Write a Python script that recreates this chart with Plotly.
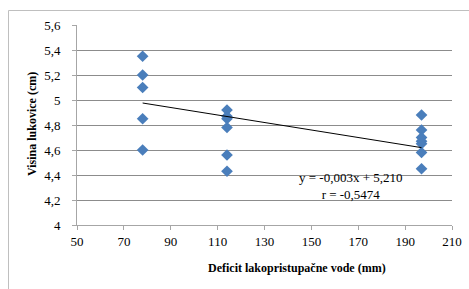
import plotly.graph_objects as go

# Data
deficit = [78, 78, 78, 78, 78,
           114, 114, 114, 114, 114, 114,
           197, 197, 197, 197, 197, 197, 197]
visina = [5.35, 5.20, 5.10, 4.85, 4.60,
          4.92, 4.87, 4.85, 4.78, 4.56, 4.43,
          4.88, 4.76, 4.70, 4.67, 4.65, 4.58, 4.45]
trend_slope = -0.003
trend_intercept = 5.210
trend_r = -0.5474

x_ticks = [50, 70, 90, 110, 130, 150, 170, 190, 210]
y_ticks = [4.0, 4.2, 4.4, 4.6, 4.8, 5.0, 5.2, 5.4, 5.6]
y_ticktext = ["4", "4,2", "4,4", "4,6", "4,8", "5", "5,2", "5,4", "5,6"]

x_title = "Deficit lakopristupačne vode (mm)"
y_title = "Visina lukovice (cm)"
eq_text = "y = -0,003x + 5,210<br>r = -0,5474"

FONT = "Liberation Serif"

x_min, x_max = min(deficit), max(deficit)
trend_x = [x_min, x_max]
trend_y = [trend_slope * v + trend_intercept for v in trend_x]

fig = go.Figure()
fig.add_trace(go.Scatter(
    x=deficit, y=visina, mode="markers",
    marker=dict(symbol="diamond", size=9, color="#4A7EBB",
                line=dict(width=0)),
    showlegend=False, hoverinfo="skip"))
fig.add_trace(go.Scatter(
    x=trend_x, y=trend_y, mode="lines",
    line=dict(color="black", width=1),
    showlegend=False, hoverinfo="skip"))

W, H = 469, 289
L, R, T, B = 77, 17, 25, 64
pw = W - L - R
ph = H - T - B

tickfont = dict(family=FONT, size=13, color="black")

fig.update_layout(
    width=W, height=H,
    margin=dict(l=L, r=R, t=T, b=B, autoexpand=False),
    paper_bgcolor="white", plot_bgcolor="white",
    font=dict(family=FONT, size=13, color="black"),
    xaxis=dict(range=[50, 210], tickvals=x_ticks, showgrid=False,
               zeroline=False, showline=True, linecolor="#A6A6A6",
               linewidth=1, ticks="outside", ticklen=4, automargin=False,
               tickcolor="#A6A6A6", tickfont=tickfont),
    yaxis=dict(range=[4, 5.6], tickvals=y_ticks, ticktext=y_ticktext,
               showgrid=True, gridcolor="#8C8C8C", gridwidth=1,
               zeroline=False, showline=True, linecolor="#A6A6A6",
               linewidth=1, ticks="outside", ticklen=4, automargin=False,
               tickcolor="#A6A6A6", tickfont=tickfont,
               ticklabelstandoff=9),
    shapes=[dict(type="rect", xref="paper", yref="paper",
                 x0=(8.5 - L) / pw, x1=(W + 5 - L) / pw,
                 y0=-(H + 5 - T - ph) / ph, y1=(ph + T - 10.5) / ph,
                 line=dict(color="#BFBFBF", width=1), fillcolor="rgba(0,0,0,0)",
                 layer="above")],
    annotations=[
        dict(text="<b>" + x_title + "</b>", xref="paper", yref="paper",
             x=(297 - L) / pw, y=-(268 - T - ph) / ph,
             showarrow=False, font=dict(size=12, family=FONT),
             xanchor="center", yanchor="middle"),
        dict(text="<b>" + y_title + "</b>", xref="paper", yref="paper",
             x=(32 - L) / pw, y=(ph - (124 - T)) / ph, textangle=-90,
             showarrow=False, font=dict(size=12, family=FONT),
             xanchor="center", yanchor="middle"),
        dict(text=eq_text, xref="paper", yref="paper",
             x=(351 - L) / pw, y=(ph - (186 - T)) / ph,
             showarrow=False, font=dict(size=13, family=FONT),
             xanchor="center", yanchor="middle", align="center"),
    ],
)
fig.write_html(
    "out.html",
    config={"displayModeBar": False, "staticPlot": True},
    post_script="document.body.style.margin='0';document.body.style.overflow='hidden';",
)
